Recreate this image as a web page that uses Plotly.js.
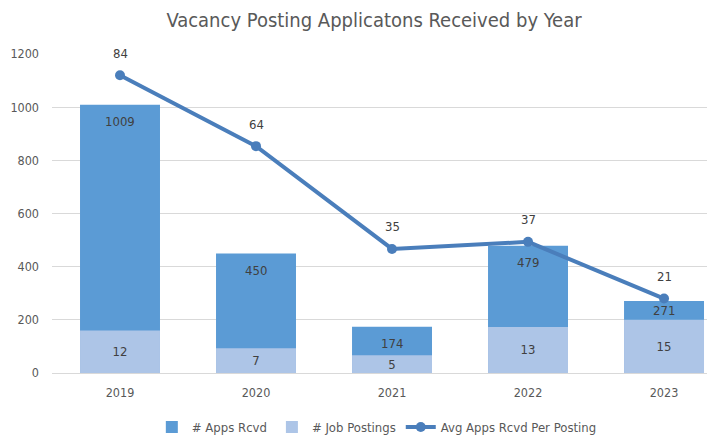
<!DOCTYPE html>
<html>
<head>
<meta charset="utf-8">
<script src="https://cdn.plot.ly/plotly-3.0.1.min.js"></script>
<style>html,body{margin:0;padding:0;background:#fff;}#chart{width:707px;height:438px;}</style>
</head>
<body>
<div id="chart"></div>
<script>
const years = ['2019', '2020', '2021', '2022', '2023'];
const appsRcvd = [1009, 450, 174, 479, 271];
const jobPostings = [12, 7, 5, 13, 15];
const avgPerPosting = [84, 64, 35, 37, 21];

const FONT = 'DejaVu Sans Condensed, Liberation Sans, Arial, sans-serif';
const LABEL = {family: FONT, size: 13, color: '#404040'};

const Y1_MAX = 1200, Y2_MAX = 90;
const H = 438, MT = 54, MB = 65;
const pxPerUnit = (H - MT - MB) / Y1_MAX;

const traces = [
  {
    type: 'bar', name: '# Apps Rcvd', x: years, y: appsRcvd,
    yaxis: 'y', width: 0.588,
    marker: {color: '#5B9BD5'}
  },
  {
    type: 'bar', name: '# Job Postings', x: years, y: jobPostings,
    yaxis: 'y2', width: 0.588,
    marker: {color: '#ADC5E7'},
    text: jobPostings.map(String), textposition: 'inside', insidetextanchor: 'middle',
    constraintext: 'none', textfont: LABEL, textangle: 0
  },
  {
    type: 'scatter', mode: 'lines+markers', name: 'Avg Apps Rcvd Per Posting',
    x: years, y: avgPerPosting, yaxis: 'y2',
    line: {color: '#4A7EBB', width: 4},
    marker: {color: '#4A7EBB', size: 10},
    cliponaxis: false
  }
];

const avgLabels = years.map((yr, i) => ({
  x: i, y: avgPerPosting[i], xref: 'x', yref: 'y2',
  text: String(avgPerPosting[i]), showarrow: false,
  yshift: 22, font: LABEL
}));
const appsLabels = years.map((yr, i) => {
  // visible dark band height (px) above the light bar
  const band = (appsRcvd[i] - jobPostings[i] * Y1_MAX / Y2_MAX) * pxPerUnit;
  const shift = (17 + 7 > band) ? band / 2 : 17;
  return {
    x: i, y: appsRcvd[i], xref: 'x', yref: 'y',
    text: String(appsRcvd[i]), showarrow: false,
    yshift: -shift, font: LABEL
  };
});

const layout = {
  width: 707, height: H,
  margin: {l: 52, r: 0, t: MT, b: MB},
  paper_bgcolor: '#ffffff', plot_bgcolor: '#ffffff',
  font: {family: FONT, color: '#595959', size: 12},
  title: {
    text: 'Vacancy Posting Applicatons Received by Year',
    font: {family: FONT, size: 20, color: '#595959'},
    xref: 'container', x: 0.529, xanchor: 'center',
    yref: 'container', y: 0.955, yanchor: 'middle'
  },
  barmode: 'overlay',
  showlegend: true,
  legend: {
    orientation: 'h', xref: 'container', x: 0.533, xanchor: 'center',
    yref: 'container', y: 0.025, yanchor: 'middle',
    font: {family: FONT, size: 13, color: '#595959'},
    traceorder: 'normal', itemwidth: 30
  },
  annotations: appsLabels.concat(avgLabels),
  xaxis: {
    type: 'category', range: [-0.5, 4.316],
    showgrid: false, showline: true, linecolor: '#D9D9D9', linewidth: 1,
    ticks: '', tickfont: {family: FONT, size: 12.5, color: '#595959'},
    ticklabelstandoff: 8, fixedrange: true
  },
  yaxis: {
    range: [0, Y1_MAX], tickvals: [0, 200, 400, 600, 800, 1000, 1200],
    showgrid: true, gridcolor: '#D9D9D9', gridwidth: 1,
    zeroline: false, showline: false, ticks: '',
    tickfont: {family: FONT, size: 12.5, color: '#595959'},
    ticklabelstandoff: 12, fixedrange: true
  },
  yaxis2: {
    range: [0, Y2_MAX], overlaying: 'y', side: 'right',
    showticklabels: false, ticks: '', showline: false,
    showgrid: false, zeroline: false, fixedrange: true
  }
};

Plotly.newPlot('chart', traces, layout, {displayModeBar: false, staticPlot: true});
</script>
</body>
</html>
